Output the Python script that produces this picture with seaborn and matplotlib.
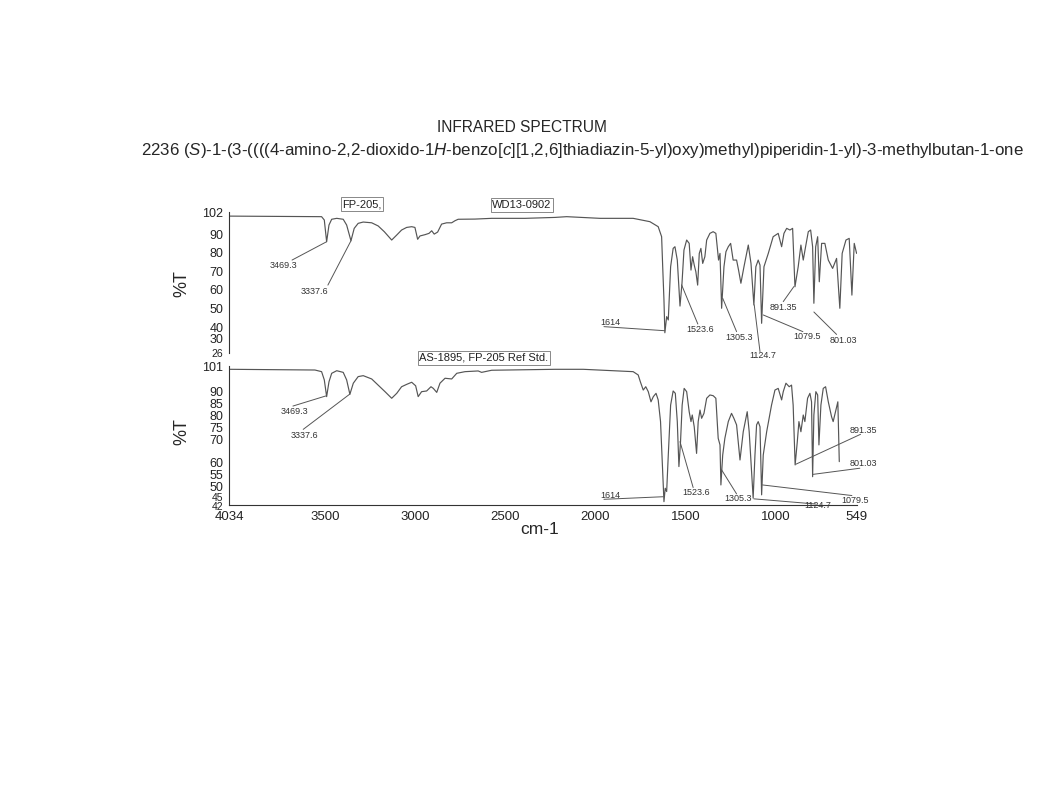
import seaborn as sns
import pandas as pd
import matplotlib.pyplot as plt
from matplotlib.transforms import ScaledTranslation

# sample spectrum (FP-205, WD13-0902)
sample_wn = [4028, 3520, 3505, 3492, 3479, 3464, 3436, 3400, 3381, 3357, 3339, 3317, 3289, 3242,
             3206, 3172, 3131, 3103, 3076, 3048, 3020, 3002, 2987, 2974, 2946, 2924, 2909, 2895,
             2876, 2854, 2826, 2798, 2780, 2762, 2669, 2576, 2391, 2225, 2160, 1975, 1791, 1698,
             1652, 1633, 1627, 1620, 1615, 1605, 1596, 1583, 1569, 1559, 1546, 1531, 1520, 1509,
             1494, 1480, 1470, 1461, 1452, 1443, 1433, 1424, 1415, 1405, 1393, 1383, 1365, 1347,
             1332, 1317, 1309, 1300, 1287, 1276, 1263, 1250, 1236, 1217, 1206, 1193, 1176, 1152,
             1137, 1121, 1110, 1097, 1087, 1078, 1065, 1041, 1014, 986, 967, 954, 939, 921, 906,
             893, 875, 860, 847, 834, 819, 806, 795, 788, 778, 767, 758, 745, 727, 708, 684, 662,
             644, 631, 610, 592, 577, 564, 551]
sample_t = [99.8, 99.5, 97.7, 86.0, 95.0, 98.1, 98.6, 98.1, 95.0, 86.5, 93.2, 95.9, 96.6, 96.2,
            94.5, 91.4, 86.9, 89.6, 92.3, 93.7, 94.1, 93.7, 87.3, 89.1, 89.8, 90.5, 91.9, 90.1,
            91.2, 95.5, 96.2, 96.2, 97.3, 98.1, 98.2, 98.6, 98.6, 99.1, 99.5, 98.6, 98.6, 96.8,
            94.1, 88.7, 72.5, 54.6, 36.9, 45.6, 43.8, 72.5, 82.4, 83.3, 76.1, 51.3, 63.5, 81.5,
            86.9, 85.1, 70.7, 77.9, 73.4, 69.8, 62.6, 79.7, 82.4, 74.3, 77.9, 86.9, 90.5, 91.4,
            90.5, 76.1, 79.7, 50.1, 72.5, 80.6, 83.3, 85.1, 76.1, 76.1, 70.7, 63.6, 72.5, 84.2,
            74.3, 51.9, 72.5, 76.1, 73.4, 42.0, 72.5, 79.7, 88.7, 90.5, 83.3, 90.5, 93.2, 92.3, 93.2,
            61.7, 72.5, 84.2, 76.1, 83.3, 91.4, 92.3, 83.3, 52.8, 83.3, 88.7, 64.4, 85.1, 85.1, 76.1,
            71.6, 77.0, 50.1, 79.7, 86.9, 87.8, 57.2, 85.1, 79.7]

# reference standard spectrum (AS-1895, FP-205 Ref Std.)
ref_wn = [4028, 3557, 3520, 3505, 3492, 3479, 3464, 3436, 3400, 3381, 3363, 3344, 3317, 3289,
          3242, 3206, 3168, 3131, 3103, 3076, 3048, 3020, 2998, 2984, 2965, 2937, 2913, 2900,
          2881, 2863, 2835, 2798, 2770, 2724, 2651, 2632, 2576, 2225, 2068, 1791, 1763, 1751,
          1735, 1721, 1707, 1692, 1679, 1664, 1652, 1639, 1627, 1620, 1613, 1605, 1596, 1583,
          1569, 1557, 1546, 1537, 1528, 1519, 1508, 1494, 1480, 1470, 1463, 1452, 1439, 1430,
          1420, 1411, 1398, 1383, 1365, 1347, 1332, 1319, 1309, 1304, 1294, 1282, 1263, 1245,
          1232, 1217, 1198, 1180, 1158, 1147, 1134, 1125, 1115, 1106, 1097, 1087, 1078, 1069,
          1050, 1023, 1004, 986, 967, 958, 943, 925, 912, 903, 892, 880, 871, 860, 847, 838, 823,
          810, 801, 795, 788, 777, 767, 760, 749, 736, 723, 708, 690, 681, 666, 655, 647]
ref_t = [99.6, 99.3, 98.6, 95.1, 88.0, 94.3, 97.9, 99.0, 98.3, 95.1, 89.0, 93.7, 96.5, 96.9,
         95.5, 92.9, 90.1, 87.3, 89.4, 92.2, 93.2, 94.1, 92.6, 88.0, 90.1, 90.4, 92.2, 91.5,
         89.8, 93.7, 95.8, 95.5, 97.9, 98.6, 98.9, 98.3, 99.2, 99.6, 99.6, 98.6, 97.2, 94.3,
         90.8, 92.2, 90.1, 85.8, 88.0, 89.4, 86.6, 77.4, 56.1, 43.4, 49.1, 47.7, 63.2, 84.4,
         90.4, 89.4, 77.4, 58.3, 68.9, 84.4, 91.5, 90.1, 81.6, 77.4, 80.2, 75.2, 63.9, 77.4,
         82.3, 78.8, 80.9, 87.3, 88.7, 88.4, 87.3, 70.3, 67.5, 50.5, 63.2, 70.3, 77.4, 80.9,
         78.8, 76.0, 61.1, 73.1, 81.6, 73.1, 56.1, 44.9, 63.2, 76.0, 77.4, 75.2, 46.3, 63.2,
         73.1, 84.4, 90.8, 91.5, 86.6, 90.1, 93.7, 92.2, 92.9, 84.4, 59.0, 68.9, 77.4, 73.1, 80.2,
         77.4, 87.3, 89.4, 85.8, 54.0, 80.2, 90.1, 88.7, 67.5, 84.4, 91.5, 92.2, 85.8, 79.5, 77.4,
         82.3, 85.8, 60.4]

# peak labels: text, text position (wn, %T), leader line start and end (wn, %T)
sample_peaks = [
    ("3469.3", (3732, 72.9), (3684, 76.1), (3492, 86.0)),
    ("3337.6", (3557, 58.9), (3485, 62.6), (3357, 86.5)),
    ("1614", (1920, 42.2), (1953, 40.2), (1615, 38.0)),
    ("1523.6", (1420, 38.7), (1432, 41.6), (1522, 62.7)),
    ("1305.3", (1204, 34.4), (1217, 37.5), (1294, 55.5)),
    ("1124.7", (1073, 24.4), (1087, 26.7), (1119, 51.9)),
    ("1079.5", (828, 34.8), (849, 37.5), (1069, 46.5)),
    ("891.35", (958, 50.6), (958, 53.7), (899, 61.8)),
    ("801.03", (627, 32.5), (662, 36.0), (788, 48.1)),
]
ref_peaks = [
    ("3469.3", (3672, 81.6), (3679, 84.0), (3496, 88.3)),
    ("3337.6", (3616, 71.7), (3622, 74.1), (3363, 89.1)),
    ("1614", (1920, 46.0), (1953, 44.4), (1624, 45.5)),
    ("1523.6", (1439, 47.4), (1458, 49.4), (1531, 68.9)),
    ("1305.3", (1208, 44.6), (1217, 46.7), (1300, 56.9)),
    ("1124.7", (764, 41.7), (1121, 44.6), (777, 42.4)),
    ("1079.5", (560, 44.1), (1073, 50.5), (577, 46.0)),
    ("891.35", (514, 73.6), (888, 59.3), (529, 72.0)),
    ("801.03", (514, 59.6), (792, 55.0), (533, 57.6)),
]

top_ticks = [102, 90, 80, 70, 60, 50, 40, 30, 26]
bottom_ticks = [101, 90, 85, 80, 75, 70, 60, 55, 50, 45, 42]
x_ticks = [4034, 3500, 3000, 2500, 2000, 1500, 1000, 549]

sns.set_theme(style="white")
plt.rcParams['font.family'] = ['Liberation Sans', 'DejaVu Sans']
plt.rcParams['mathtext.fontset'] = 'custom'
plt.rcParams['mathtext.rm'] = 'Liberation Sans'
plt.rcParams['mathtext.it'] = 'Liberation Sans:italic'

line_col = "#555555"
axis_col = "#333333"

fig = plt.figure(figsize=(10.64, 7.90), dpi=100)
ax1 = fig.add_axes([0.2152, 0.5532, 0.5902, 0.1784])
ax2 = fig.add_axes([0.2152, 0.3608, 0.5902, 0.1759])

df1 = pd.DataFrame({"wn": sample_wn, "T": sample_t})
df2 = pd.DataFrame({"wn": ref_wn, "T": ref_t})
sns.lineplot(data=df1, x="wn", y="T", ax=ax1, color=line_col, lw=0.85, sort=False, estimator=None)
sns.lineplot(data=df2, x="wn", y="T", ax=ax2, color=line_col, lw=0.85, sort=False, estimator=None)

for ax, ticks in [(ax1, top_ticks), (ax2, bottom_ticks)]:
    ax.set_xlim(4034, 549)
    ax.set_ylim(ticks[-1], ticks[0])
    ax.set_yticks(ticks)
    ax.set_xlabel("")
    ax.set_ylabel("")
    ax.set_facecolor("none")
    for s in ["top", "right"]:
        ax.spines[s].set_visible(False)
    ax.spines["left"].set_color(axis_col)
    ax.spines["left"].set_linewidth(0.8)
    ax.tick_params(axis="y", direction="out", length=3, width=0.8, color=axis_col,
                   labelsize=9, pad=1, labelcolor="#222222")


def nudge(label, dy_px, size):
    label.set_fontsize(size)
    label.set_transform(label.get_transform() + ScaledTranslation(0, dy_px / 100, fig.dpi_scale_trans))


# crowded labels at the bottom of each panel: squeeze them like the scan does
ticks1 = ax1.yaxis.get_major_ticks()
ticks1[-2].label1.set_va("bottom")
ticks1[-1].label1.set_fontsize(7.5)
ticks2 = ax2.yaxis.get_major_ticks()
nudge(ticks2[-2].label1, 1.0, 7.5)
nudge(ticks2[-1].label1, -1.5, 7.5)

ax1.spines["bottom"].set_visible(False)
ax1.set_xticks([])
ax2.spines["bottom"].set_color(axis_col)
ax2.spines["bottom"].set_linewidth(0.8)
ax2.set_xticks(x_ticks)
ax2.tick_params(axis="x", direction="out", length=3, width=0.8, color=axis_col,
                labelsize=9.5, pad=1.5, labelcolor="#222222")

for ax, peaks in [(ax1, sample_peaks), (ax2, ref_peaks)]:
    for label, (tx, ty), (x0, y0), (x1, y1) in peaks:
        ax.plot([x0, x1], [y0, y1], color=line_col, lw=0.7, clip_on=False)
        ax.text(tx, ty, label, fontsize=6.5, color="#333333", ha="center", va="center")

box = dict(boxstyle="square,pad=0.15", fc="white", ec="#888888", lw=0.7)
ax1.text(3296, 106.3, "FP-205,", fontsize=8, ha="center", va="center", bbox=box, color="#222222")
ax1.text(2408, 105.8, "WD13-0902", fontsize=8, ha="center", va="center", bbox=box, color="#222222")
ax2.text(2619, 104.4, "AS-1895, FP-205 Ref Std.", fontsize=8, ha="center", va="center", bbox=box,
         color="#222222")

fig.text(182 / 1064, 1 - 284 / 790, "%T", rotation=90, fontsize=13, ha="center", va="center")
fig.text(182 / 1064, 1 - 432 / 790, "%T", rotation=90, fontsize=13, ha="center", va="center")
fig.text(540 / 1064, 1 - 530 / 790, "cm-1", fontsize=12.5, ha="center", va="center")

fig.text(522 / 1064, 1 - 128 / 790, "INFRARED SPECTRUM", fontsize=11.2, ha="center", va="center")
fig.text(582 / 1064, 1 - 150 / 790,
         r"2236 ($\mathit{S}$)-1-(3-((((4-amino-2,2-dioxido-1$\mathit{H}$-benzo[$\mathit{c}$][1,2,6]"
         r"thiadiazin-5-yl)oxy)methyl)piperidin-1-yl)-3-methylbutan-1-one",
         fontsize=12.2, ha="center", va="center")

fig.savefig("out.png", dpi=100, facecolor="white")
